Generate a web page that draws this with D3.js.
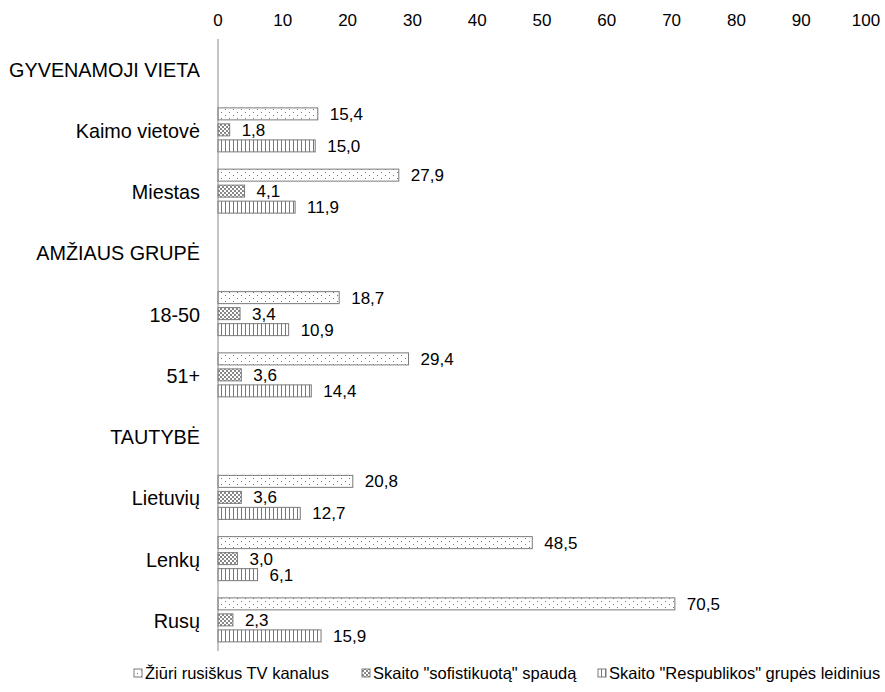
<!DOCTYPE html>
<html>
<head>
<meta charset="utf-8">
<script src="https://cdn.jsdelivr.net/npm/d3@7"></script>
<style>
body{margin:0;background:#fff;}
text{font-family:"Liberation Sans",Arial,sans-serif;fill:#000;}
</style>
</head>
<body>
<div></div>
<script>
let categories = ["GYVENAMOJI VIETA","Kaimo vietovė","Miestas","AMŽIAUS GRUPĖ","18-50","51+","TAUTYBĖ","Lietuvių","Lenkų","Rusų"];
let seriesNames = ["Žiūri rusiškus TV kanalus","Skaito \"sofistikuotą\" spaudą","Skaito \"Respublikos\" grupės leidinius"];
// null = header row, no bars
let tvValues   = [null,15.4,27.9,null,18.7,29.4,null,20.8,48.5,70.5];
let sofValues  = [null,1.8,4.1,null,3.4,3.6,null,3.6,3.0,2.3];
let respValues = [null,15.0,11.9,null,10.9,14.4,null,12.7,6.1,15.9];
let tickValues = [0,10,20,30,40,50,60,70,80,90,100];

let svgWidth = 885, svgHeight = 692;
let svg = d3.select("body div").append("svg")
    .attr("width", svgWidth).attr("height", svgHeight);

// patterns
let defs = svg.append("defs");
let p1 = defs.append("pattern").attr("id","pDots").attr("patternUnits","userSpaceOnUse")
    .attr("width",8).attr("height",6);
p1.append("rect").attr("width",8).attr("height",6).attr("fill","#fff");
p1.append("rect").attr("x",1).attr("y",1).attr("width",1).attr("height",1).attr("fill","#777");
p1.append("rect").attr("x",5).attr("y",4).attr("width",1).attr("height",1).attr("fill","#777");

let p2 = defs.append("pattern").attr("id","pCheck").attr("patternUnits","userSpaceOnUse")
    .attr("width",4).attr("height",4);
p2.append("rect").attr("width",4).attr("height",4).attr("fill","#fff");
p2.append("rect").attr("width",2).attr("height",2).attr("fill","#888");
p2.append("rect").attr("x",2).attr("y",2).attr("width",2).attr("height",2).attr("fill","#888");

let p3 = defs.append("pattern").attr("id","pStripe").attr("patternUnits","userSpaceOnUse")
    .attr("width",4).attr("height",4);
p3.append("rect").attr("width",4).attr("height",4).attr("fill","#fff");
p3.append("rect").attr("x",1).attr("width",1).attr("height",4).attr("fill","#777");

let fills = ["url(#pDots)","url(#pCheck)","url(#pStripe)"];

let x = d3.scaleLinear().domain([0,100]).range([218,866]);
let y = d3.scaleBand().domain(categories).range([39,651.5]);
let yInner = d3.scaleBand().domain([0,1,2]).range([-23,21]).paddingInner(0.25);

// top axis labels
svg.append("g").selectAll("text").data(tickValues).enter().append("text")
    .attr("x", d => x(d)).attr("y", 26)
    .attr("text-anchor","middle").style("font-size","17px")
    .text(d => d);

// category labels
svg.append("g").selectAll("text").data(categories).enter().append("text")
    .attr("x", 200)
    .attr("y", d => y(d) + y.bandwidth()/2 + 7)
    .attr("text-anchor","end").style("font-size","19.8px")
    .text(d => d);

let series = [tvValues, sofValues, respValues];
let fmt = v => v.toFixed(1).replace(".", ",");

series.forEach(function(vals, s) {
    let g = svg.append("g");
    let rows = categories.map((c,i) => ({cat:c, v:vals[i]})).filter(d => d.v !== null);
    g.selectAll("rect").data(rows).enter().append("rect")
        .attr("x", x(0))
        .attr("y", d => y(d.cat) + y.bandwidth()/2 + yInner(s))
        .attr("width", d => x(d.v) - x(0))
        .attr("height", yInner.bandwidth())
        .attr("fill", fills[s])
        .attr("stroke", "#7a7a7a").attr("stroke-width", 1);
    g.selectAll("text").data(rows).enter().append("text")
        .attr("x", d => x(d.v) + 12)
        .attr("y", d => y(d.cat) + y.bandwidth()/2 + yInner(s) + yInner.bandwidth()/2 + 6)
        .style("font-size","17px")
        .text(d => fmt(d.v));
});

// vertical axis line
svg.append("line").attr("x1", x(0)).attr("x2", x(0))
    .attr("y1", 39).attr("y2", 651)
    .attr("stroke","#888").attr("stroke-width",1);

// legend
let legX = [134, 362, 598];
let leg = svg.append("g");
seriesNames.forEach(function(n, i) {
    leg.append("rect").attr("x", legX[i]).attr("y", 669).attr("width",8).attr("height",8)
        .attr("fill", fills[i]).attr("stroke","#7a7a7a");
    leg.append("text").attr("x", legX[i] + 11).attr("y", 679)
        .style("font-size","16.5px").text(n);
});
</script>
</body>
</html>
